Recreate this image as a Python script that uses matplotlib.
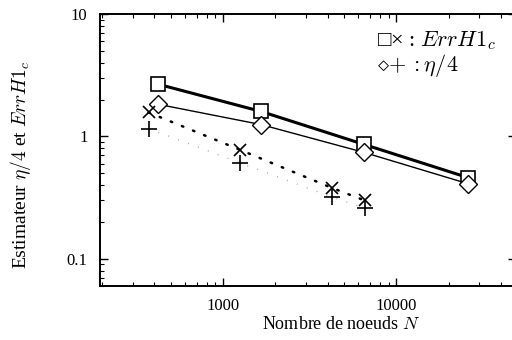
import numpy as np
import matplotlib
matplotlib.use("Agg")
import matplotlib.pyplot as plt

plt.rcParams['font.family'] = ['Liberation Serif', 'DejaVu Serif', 'DejaVu Sans']
plt.rcParams['mathtext.fontset'] = 'cm'

# ErrH1c (squares) and eta/4 (diamonds), first mesh family
n_a = [420, 1650, 6500, 26000]
err_a = [2.67, 1.60, 0.86, 0.46]
eta_a = [1.83, 1.25, 0.74, 0.41]

# ErrH1c (crosses) and eta/4 (plus), second mesh family
n_b = [370, 1240, 4230, 6550]
err_b = [1.57, 0.78, 0.38, 0.30]
eta_b = [1.16, 0.61, 0.32, 0.26]

fig = plt.figure(figsize=(5.12, 3.4), dpi=100)
ax = fig.add_axes([100/512, 1 - 286/340, 416/512, 272/340])

ax.plot(n_a, err_a, color='black', lw=2.2, marker='s', ms=10, mfc='white', mew=1.2)
ax.plot(n_a, eta_a, color='black', lw=1.0, marker='D', ms=9, mfc='white', mew=1.0)
ax.plot(n_b, err_b, color='black', lw=1.8, ls=(0, (0.6, 4.2)), dash_capstyle='round',
        marker='x', ms=8, mew=1.2)
ax.plot(n_b, eta_b, color='0.6', lw=1.0, ls=(0, (0.6, 7)), marker='+', ms=11, mew=1.2,
        mec='black')

ax.set_xscale('log')
ax.set_yscale('log')
ax.set_xlim(194, 49000)
ax.set_ylim(0.06, 10)
ax.set_xticks([1000, 10000])
ax.set_xticklabels(['1000', '10000'])
ax.set_yticks([0.1, 1, 10])
ax.set_yticklabels(['0.1', '1', '10'])
ax.tick_params(which='both', direction='in', top=True, right=True, labelsize=12)
ax.tick_params(which='major', length=6, width=1)
ax.tick_params(which='minor', length=3, width=0.8)
ax.tick_params(axis='y', pad=9)
ax.tick_params(axis='x', pad=9)
for s in ax.spines.values():
    s.set_linewidth(1.4)

ax.set_xlabel('Nombre de noeuds $N$', fontsize=13)
ax.set_ylabel(r'Estimateur $\eta/4$ et $ErrH1_c$', fontsize=14)
ax.xaxis.set_label_coords(0.58, -0.112)
ax.yaxis.set_label_coords(-0.162, 0.445)

ax.text(0.665, 0.945, '\u25a1\u00d7 : $ErrH1_c$', transform=ax.transAxes,
        fontsize=16, va='top')
ax.text(0.665, 0.86, r'$\diamond\!+ : \eta/4$', transform=ax.transAxes,
        fontsize=16, va='top')

fig.savefig('out.png', dpi=100)
